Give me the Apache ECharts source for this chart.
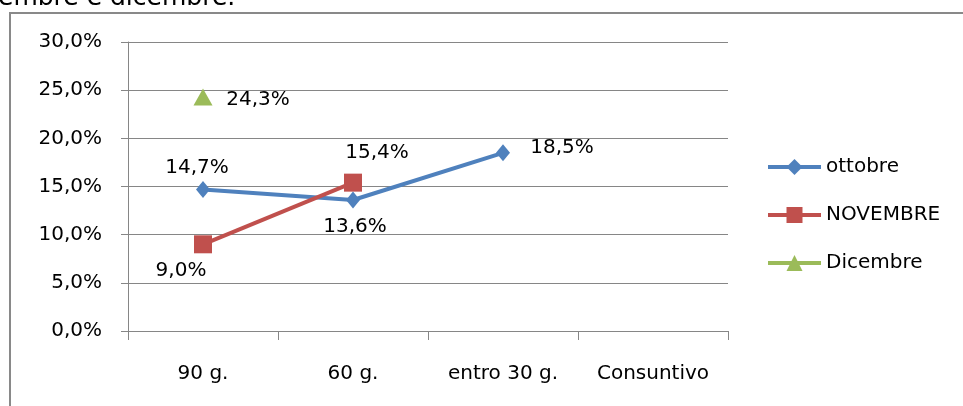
<!DOCTYPE html>
<html>
<head>
<meta charset="utf-8">
<script src="https://cdn.jsdelivr.net/npm/echarts@6/dist/echarts.min.js"></script>
<style>
html,body{margin:0;padding:0;background:#fff;}
#c{width:963px;height:406px;}
</style>
</head>
<body>
<div id="c"></div>
<script>
var categories = ['90 g.', '60 g.', 'entro 30 g.', 'Consuntivo'];
var ottobre = [14.7, 13.6, 18.5, null];
var novembre = [9.0, 15.4, null, null];
var dicembre = [24.3, null, null, null];
var seriesNames = ['ottobre', 'NOVEMBRE', 'Dicembre'];

var ottobreOffsets = [[-6, -22], [2, 27], [59, -5], null];
var novembreOffsets = [[-22, 26], [24, -30], null, null];
var dicembreOffsets = [[55, 3], null, null, null];

function fmt(v) { return v.toFixed(1).replace('.', ',') + '%'; }

function build(values, offsets) {
  return values.map(function (v, i) {
    if (v === null) return null;
    return { value: v, label: { offset: offsets[i] } };
  });
}

var FONT = 'DejaVu Sans';
var labelStyle = {
  show: true, position: 'inside', color: '#000', fontFamily: FONT, fontSize: 20,
  formatter: function (p) { return fmt(p.value); }
};

var chart = echarts.init(document.getElementById('c'));
chart.setOption({
  animation: false,
  backgroundColor: '#fff',
  grid: { left: 128, right: 235, top: 42, bottom: 75, containLabel: false },
  legend: {
    orient: 'vertical', left: 761, top: 152,
    itemWidth: 53, itemHeight: 20, itemGap: 28,
    lineStyle: { width: 4 },
    textStyle: { fontFamily: FONT, fontSize: 20, color: '#000' },
    data: seriesNames
  },
  xAxis: {
    type: 'category', data: categories, boundaryGap: true,
    axisLine: { lineStyle: { color: '#868686', width: 1 } },
    axisTick: { show: true, length: 9, interval: 0, lineStyle: { color: '#868686' } },
    axisLabel: { margin: 33, color: '#000', fontFamily: FONT, fontSize: 20, interval: 0 },
    splitLine: { show: false }
  },
  yAxis: {
    type: 'value', min: 0, max: 30, interval: 5,
    axisLine: { show: true, lineStyle: { color: '#868686', width: 1 } },
    axisTick: { show: true, length: 7, lineStyle: { color: '#868686' } },
    axisLabel: { margin: 26, color: '#000', fontFamily: FONT, fontSize: 20,
      formatter: function (v) { return fmt(v); } },
    splitLine: { show: true, lineStyle: { color: '#868686', width: 1 } }
  },
  graphic: [
    { type: 'text', left: -2, top: -14, style: { text: 'embre e dicembre.', font: '25px "DejaVu Sans"', fill: '#000' }, z: 10 },
    { type: 'line', shape: { x1: 10, y1: 13, x2: 963, y2: 13 }, style: { stroke: '#898989', lineWidth: 2 } },
    { type: 'line', shape: { x1: 10, y1: 12, x2: 10, y2: 406 }, style: { stroke: '#898989', lineWidth: 2 } }
  ],
  series: [
    {
      name: 'ottobre', type: 'line', data: build(ottobre, ottobreOffsets),
      color: '#4F81BD', symbol: 'diamond', symbolSize: [14, 17], showAllSymbol: true,
      lineStyle: { width: 4, color: '#4F81BD' }, itemStyle: { color: '#4F81BD' },
      label: labelStyle, connectNulls: false
    },
    {
      name: 'NOVEMBRE', type: 'line', data: build(novembre, novembreOffsets),
      color: '#C0504D', symbol: 'rect', symbolSize: 18, showAllSymbol: true,
      lineStyle: { width: 4, color: '#C0504D' }, itemStyle: { color: '#C0504D' },
      label: labelStyle
    },
    {
      name: 'Dicembre', type: 'line', data: build(dicembre, dicembreOffsets),
      color: '#9BBB59', symbol: 'triangle', symbolSize: [19, 17], showAllSymbol: true,
      lineStyle: { width: 4, color: '#9BBB59' }, itemStyle: { color: '#9BBB59' },
      label: labelStyle
    }
  ]
});
</script>
</body>
</html>
